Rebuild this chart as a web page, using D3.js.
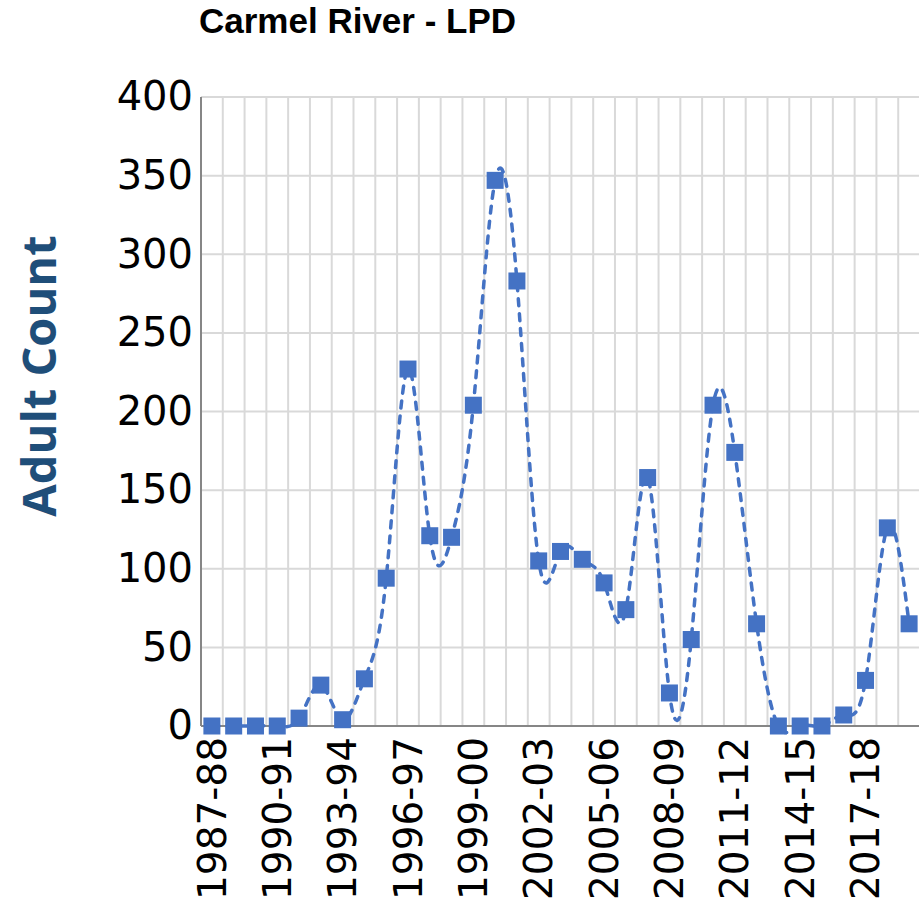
<!DOCTYPE html>
<html>
<head>
<meta charset="utf-8">
<script src="https://cdn.jsdelivr.net/npm/d3@7"></script>
<style>
  body { margin: 0; background: #fff; }
</style>
</head>
<body>
<div class="chart"></div>
<script>
var seasons = ["1987-88", "1988-89", "1989-90", "1990-91", "1991-92", "1992-93",
               "1993-94", "1994-95", "1995-96", "1996-97", "1997-98", "1998-99",
               "1999-00", "2000-01", "2001-02", "2002-03", "2003-04", "2004-05",
               "2005-06", "2006-07", "2007-08", "2008-09", "2009-10", "2010-11",
               "2011-12", "2012-13", "2013-14", "2014-15", "2015-16", "2016-17",
               "2017-18", "2018-19", "2019-20"];
var adultCount = [0, 0, 0, 0, 5, 26, 4, 30, 94, 227, 121, 120, 204, 347, 283, 105,
                  111, 106, 91, 74, 158, 21, 55, 204, 174, 65, 0, 0, 0, 7, 29, 126, 65];
var yTicks = [0, 50, 100, 150, 200, 250, 300, 350, 400];
var labelEvery = 3;

function init(){
  var w = 919;
  var h = 904;
  var left = 201, right = 920, top = 97, bottom = 726;

  var dataset = seasons.map(function(s, i){
    return {season: s, count: adultCount[i]};
  });

  var svg = d3.select(".chart")
              .append("svg")
              .attr("width", w)
              .attr("height", h);

  var x = d3.scaleBand()
            .domain(seasons)
            .range([left, right])
            .padding(0);

  var y = d3.scaleLinear()
            .domain([0, 400])
            .range([bottom, top]);

  // horizontal grid
  svg.append("g")
      .selectAll("line")
      .data(yTicks.slice(1))
      .join("line")
        .attr("x1", left)
        .attr("x2", right)
        .attr("y1", function(d){ return y(d); })
        .attr("y2", function(d){ return y(d); })
        .attr("stroke", "#d9d9d9")
        .attr("stroke-width", 2);

  // vertical grid on the category boundaries
  svg.append("g")
      .selectAll("line")
      .data(seasons.slice(1))
      .join("line")
        .attr("x1", function(d){ return x(d); })
        .attr("x2", function(d){ return x(d); })
        .attr("y1", top)
        .attr("y2", bottom)
        .attr("stroke", "#d9d9d9")
        .attr("stroke-width", 2);

  // axes lines
  svg.append("line")
      .attr("x1", left).attr("x2", left)
      .attr("y1", top).attr("y2", bottom)
      .attr("stroke", "#868686")
      .attr("stroke-width", 2);

  svg.append("line")
      .attr("x1", left).attr("x2", right)
      .attr("y1", bottom).attr("y2", bottom)
      .attr("stroke", "#868686")
      .attr("stroke-width", 2);

  var yAxis = d3.axisLeft(y)
                .tickValues(yTicks)
                .tickSize(0)
                .tickPadding(8);

  svg.append("g")
      .attr("transform", "translate(" + left + ",0)")
      .style("font-family", "DejaVu Sans")
      .style("font-size", "40px")
      .call(yAxis)
      .call(function(g){ g.select(".domain").remove(); })
      .selectAll("text")
        .attr("fill", "#000");

  var xAxis = d3.axisBottom(x)
                .tickValues(seasons.filter(function(d, i){ return i % labelEvery == 0; }))
                .tickSize(0);

  svg.append("g")
      .attr("transform", "translate(0," + bottom + ")")
      .style("font-family", "DejaVu Sans")
      .style("font-size", "39px")
      .call(xAxis)
      .call(function(g){ g.select(".domain").remove(); })
      .selectAll("text")
        .attr("fill", "#000")
        .attr("text-anchor", "end")
        .attr("transform", "rotate(-90)")
        .attr("x", -11)
        .attr("y", 0)
        .attr("dy", "0.35em");

  // smoothed line (natural cubic spline)
  var line = d3.line()
               .x(function(d){ return x(d.season) + x.bandwidth() / 2; })
               .y(function(d){ return y(d.count); })
               .curve(d3.curveNatural);

  svg.append("path")
      .datum(dataset)
      .attr("d", line)
      .attr("fill", "none")
      .attr("stroke", "#4472c4")
      .attr("stroke-width", 3.5)
      .attr("stroke-dasharray", "7,8")
      .attr("stroke-linecap", "round");

  var size = 17;
  svg.append("g")
      .attr("fill", "#4472c4")
    .selectAll("rect")
    .data(dataset)
    .join("rect")
      .attr("x", function(d){ return x(d.season) + x.bandwidth() / 2 - size / 2; })
      .attr("y", function(d){ return y(d.count) - size / 2; })
      .attr("width", size)
      .attr("height", size);

  // titles
  svg.append("text")
      .attr("x", 199)
      .attr("y", 33)
      .style("font-family", "Liberation Sans")
      .style("font-weight", "bold")
      .style("font-size", "35px")
      .attr("fill", "#000")
      .text("Carmel River - LPD");

  svg.append("text")
      .attr("transform", "translate(56,376) rotate(-90)")
      .attr("text-anchor", "middle")
      .style("font-family", "Open Sans")
      .style("font-weight", "bold")
      .style("font-size", "47px")
      .attr("fill", "#1f4e79")
      .text("Adult Count");
}

window.onload = init;
</script>
</body>
</html>
